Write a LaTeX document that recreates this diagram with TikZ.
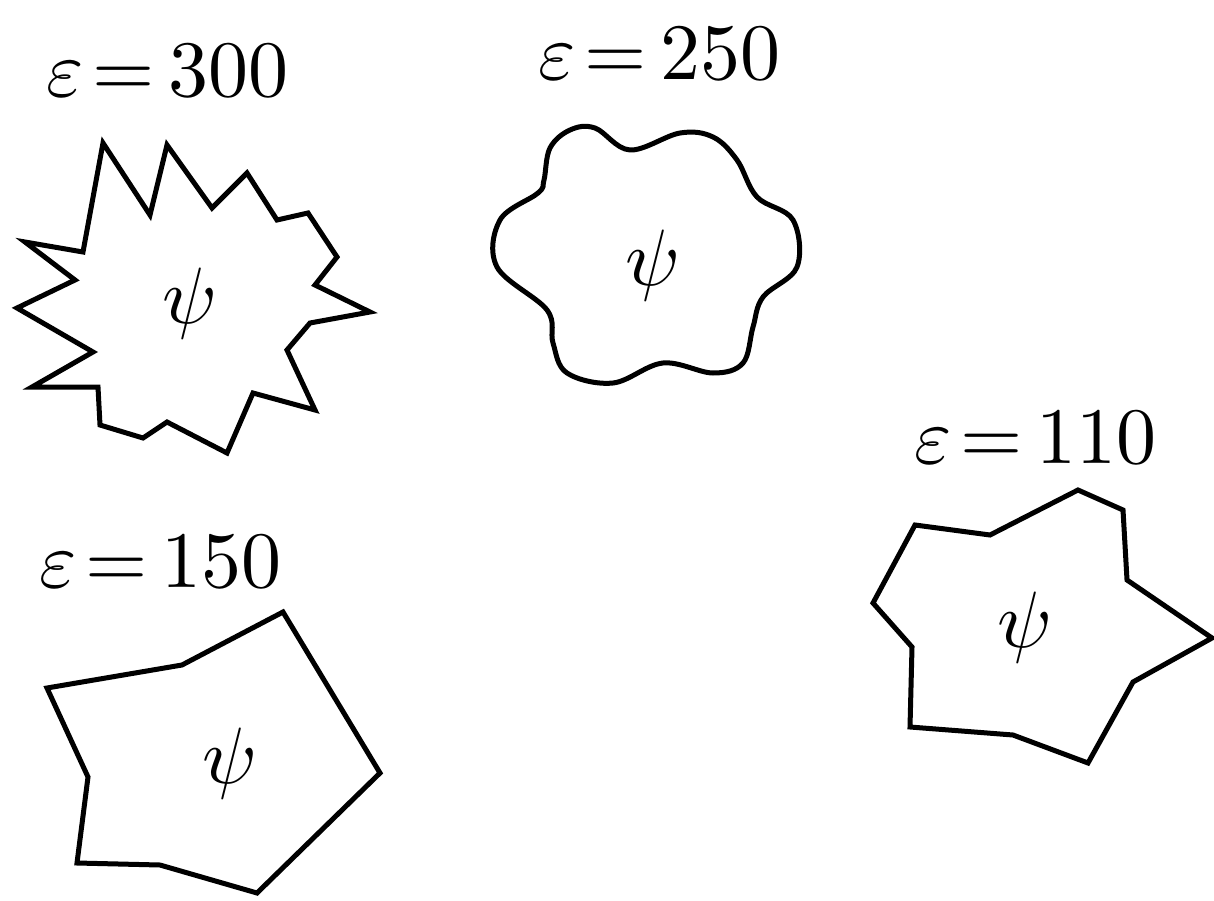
\documentclass[tikz,border=0pt]{standalone}
\begin{document}
\begin{tikzpicture}[x=1pt,y=-1pt,
  outline/.style={line width=5pt,line join=miter,black},
  eqlabel/.style={anchor=base west,inner sep=0pt,scale=8},
  psilabel/.style={anchor=center,inner sep=0pt,scale=8}]
\useasboundingbox (0,0) rectangle (1214,901);
% shape 1: spiky (eps=300)
\draw[outline] (103,143) -- (150,215) -- (167,145) -- (212,208) -- (247,173) -- (277,220)
  -- (308,213) -- (337,257) -- (315,285) -- (370,312) -- (310,323) -- (287,350)
  -- (315,410) -- (253,393) -- (227,453) -- (167,422) -- (143,438) -- (100,425)
  -- (98,387) -- (32,387) -- (93,352) -- (17,308) -- (75,280) -- (25,242) -- (83,252) -- cycle;
\node[psilabel] (p1) at (190,303) {$\psi$};
\node[eqlabel] (l1) at (45,97) {$\varepsilon\mkern2mu{=}\mkern3mu300$};
% shape 2: wavy (eps=250)
\draw[outline,line join=round] plot[smooth cycle,tension=0.6] coordinates {
  (544,180) (550,148) (570,130) (595,128) (630,150) (680,133) (713,137) (737,160) (757,197)
  (793,220) (797,267) (763,297) (753,327) (743,363) (713,373) (663,363) (613,383)
  (567,373) (553,343) (547,310) (497,267) (500,220) (538,193)};
\node[psilabel] (p2) at (653,265) {$\psi$};
\node[eqlabel] (l2) at (537,80) {$\varepsilon\mkern2mu{=}\mkern3mu250$};
% shape 3 (eps=110)
\draw[outline] (915,525) -- (990,535) -- (1078,490) -- (1123,510) -- (1127,580) -- (1212,638)
  -- (1133,682) -- (1088,763) -- (1013,735) -- (910,727) -- (912,647) -- (873,603) -- cycle;
\node[psilabel] (p3) at (1025,627) {$\psi$};
\node[eqlabel] (l3) at (913,463) {$\varepsilon\mkern2mu{=}\mkern3mu110$};
% shape 4 (eps=150)
\draw[outline] (47,688) -- (182,665) -- (283,612) -- (380,773) -- (257,893) -- (160,865)
  -- (77,863) -- (88,777) -- cycle;
\node[psilabel] (p4) at (230,763) {$\psi$};
\node[eqlabel] (l4) at (38,587) {$\varepsilon\mkern2mu{=}\mkern3mu150$};
\end{tikzpicture}
\end{document}
